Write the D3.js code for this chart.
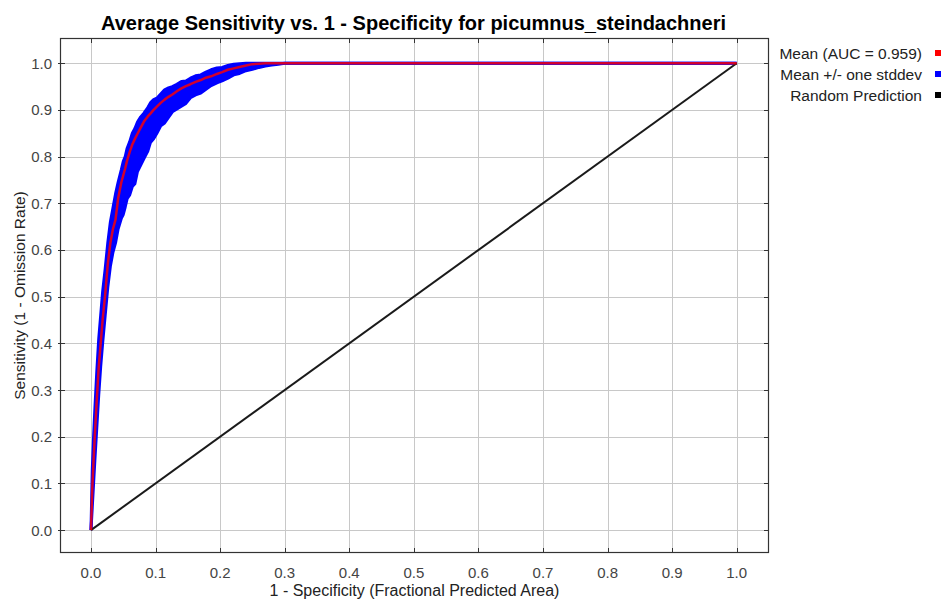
<!DOCTYPE html>
<html>
<head>
<meta charset="utf-8">
<script src="https://cdn.jsdelivr.net/npm/d3@7/dist/d3.min.js"></script>
<style>
  html, body { margin: 0; padding: 0; background: #fff; }
  svg { display: block; }
  text { font-family: "Liberation Sans", Arial, sans-serif; }
</style>
</head>
<body>
<svg id="chart" width="944" height="600"></svg>
<script>
// ---- data ----
const titleText = "Average Sensitivity vs. 1 - Specificity for picumnus_steindachneri";
const xTitle = "1 - Specificity (Fractional Predicted Area)";
const yTitle = "Sensitivity (1 - Omission Rate)";
const xTicks = [0, 0.1, 0.2, 0.3, 0.4, 0.5, 0.6, 0.7, 0.8, 0.9, 1.0];
const yTicks = [0, 0.1, 0.2, 0.3, 0.4, 0.5, 0.6, 0.7, 0.8, 0.9, 1.0];
const legendLabels = ["Mean (AUC = 0.959)", "Mean +/- one stddev", "Random Prediction"];
const legendColors = ["#ff0000", "#0000ff", "#000000"];

const fpr      = [0, 0.002, 0.004, 0.006, 0.009, 0.012, 0.015, 0.018, 0.022, 0.026, 0.030, 0.034, 0.038, 0.042, 0.047, 0.050, 0.053, 0.056, 0.060, 0.064, 0.068, 0.072, 0.077, 0.082, 0.088, 0.092, 0.097, 0.102, 0.108, 0.114, 0.120, 0.126, 0.133, 0.140, 0.147, 0.154, 0.162, 0.170, 0.178, 0.186, 0.195, 0.203, 0.212, 0.221, 0.230, 0.240, 0.250, 0.260, 0.270, 0.280, 0.290, 0.300, 0.350, 1.0];
const meanTpr  = [0, 0.09, 0.15, 0.205, 0.28, 0.35, 0.40, 0.45, 0.505, 0.57, 0.615, 0.645, 0.665, 0.71, 0.745, 0.76, 0.775, 0.792, 0.81, 0.826, 0.838, 0.849, 0.862, 0.875, 0.886, 0.892, 0.90, 0.907, 0.915, 0.922, 0.928, 0.933, 0.94, 0.946, 0.951, 0.955, 0.96, 0.964, 0.969, 0.972, 0.977, 0.981, 0.986, 0.989, 0.992, 0.995, 0.998, 0.999, 1, 1, 1, 1, 1, 1];
const upperTpr = [0, 0.13, 0.20, 0.26, 0.34, 0.41, 0.46, 0.51, 0.56, 0.615, 0.66, 0.69, 0.72, 0.745, 0.772, 0.79, 0.80, 0.818, 0.832, 0.850, 0.860, 0.874, 0.885, 0.893, 0.905, 0.915, 0.922, 0.925, 0.934, 0.943, 0.947, 0.950, 0.955, 0.961, 0.962, 0.968, 0.973, 0.975, 0.981, 0.986, 0.99, 0.991, 0.995, 0.998, 0.999, 1, 1, 1, 1, 1, 1, 1, 1, 1];
const lowerTpr = [0, 0.05, 0.10, 0.15, 0.22, 0.29, 0.35, 0.40, 0.46, 0.52, 0.565, 0.595, 0.615, 0.645, 0.668, 0.676, 0.692, 0.71, 0.718, 0.736, 0.742, 0.768, 0.782, 0.796, 0.812, 0.83, 0.838, 0.85, 0.866, 0.872, 0.884, 0.896, 0.902, 0.908, 0.914, 0.926, 0.932, 0.936, 0.944, 0.952, 0.958, 0.962, 0.968, 0.975, 0.978, 0.984, 0.987, 0.991, 0.994, 0.996, 0.998, 1, 1, 1];
const randomX = [0, 1];
const randomY = [0, 1];

// ---- layout ----
const svg = d3.select("#chart");
const plot = { left: 60, right: 769, top: 38, bottom: 553 };

const x = d3.scaleLinear().domain([-0.048, 1.05]).range([plot.left, plot.right]);
const y = d3.scaleLinear().domain([-0.049, 1.054]).range([plot.bottom, plot.top]);

svg.append("defs").append("clipPath").attr("id", "clip")
  .append("rect").attr("x", plot.left).attr("y", plot.top)
  .attr("width", plot.right - plot.left).attr("height", plot.bottom - plot.top);

// grid
const grid = svg.append("g");
grid.selectAll(".gx").data(xTicks).enter().append("line")
  .attr("x1", d => Math.round(x(d)) + 0.5).attr("x2", d => Math.round(x(d)) + 0.5)
  .attr("y1", plot.top).attr("y2", plot.bottom)
  .attr("stroke", "#c8c8c8").attr("stroke-width", 1);
grid.selectAll(".gy").data(yTicks).enter().append("line")
  .attr("y1", d => Math.round(y(d)) + 0.5).attr("y2", d => Math.round(y(d)) + 0.5)
  .attr("x1", plot.left).attr("x2", plot.right)
  .attr("stroke", "#c8c8c8").attr("stroke-width", 1);

// data
const pts = fpr.map((f, i) => ({ x: f, m: meanTpr[i], lo: lowerTpr[i], hi: upperTpr[i] }));
const g = svg.append("g").attr("clip-path", "url(#clip)");

g.append("path").datum(pts)
  .attr("d", d3.area().x(d => x(d.x)).y0(d => y(d.lo)).y1(d => y(d.hi)))
  .attr("fill", "#0000ff");
["lo", "hi"].forEach(k => {
  g.append("path").datum(pts)
    .attr("d", d3.line().x(d => x(d.x)).y(d => y(d[k])))
    .attr("fill", "none").attr("stroke", "#0000ff").attr("stroke-width", 3)
    .attr("stroke-linejoin", "round");
});

// random prediction
g.append("path").datum(randomX.map((v, i) => [v, randomY[i]]))
  .attr("d", d3.line().x(d => x(d[0])).y(d => y(d[1])))
  .attr("fill", "none").attr("stroke", "#1a1a1a").attr("stroke-width", 2);

// mean
g.append("path").datum(pts)
  .attr("d", d3.line().x(d => x(d.x)).y(d => y(d.m)))
  .attr("fill", "none").attr("stroke", "#ff0000").attr("stroke-opacity", 0.82)
  .attr("stroke-width", 2.5).attr("stroke-linejoin", "round");

// frame
svg.append("rect").attr("x", plot.left + 0.5).attr("y", plot.top + 0.5)
  .attr("width", plot.right - plot.left - 1).attr("height", plot.bottom - plot.top - 1)
  .attr("fill", "none").attr("stroke", "#333").attr("stroke-width", 1.2);

// ticks (inward, on all four sides)
const ticks = svg.append("g").attr("stroke", "#333").attr("stroke-width", 1);
xTicks.forEach(t => {
  const px = Math.round(x(t)) + 0.5;
  ticks.append("line").attr("x1", px).attr("x2", px).attr("y1", plot.bottom).attr("y2", plot.bottom - 5);
  ticks.append("line").attr("x1", px).attr("x2", px).attr("y1", plot.top).attr("y2", plot.top + 5);
});
yTicks.forEach(t => {
  const py = Math.round(y(t)) + 0.5;
  ticks.append("line").attr("y1", py).attr("y2", py).attr("x1", plot.left - 2).attr("x2", plot.left + 5);
  ticks.append("line").attr("y1", py).attr("y2", py).attr("x1", plot.right).attr("x2", plot.right - 5);
});

// tick labels
const fmt = d3.format(".1f");
svg.append("g").selectAll("text").data(xTicks).enter().append("text")
  .attr("x", d => x(d)).attr("y", 578).attr("text-anchor", "middle")
  .attr("font-size", 15).attr("fill", "#444").text(fmt);
svg.append("g").selectAll("text").data(yTicks).enter().append("text")
  .attr("x", 52).attr("y", d => y(d) + 5.5).attr("text-anchor", "end")
  .attr("font-size", 15).attr("fill", "#444").text(fmt);

// axis titles
svg.append("text").attr("x", (plot.left + plot.right) / 2).attr("y", 596)
  .attr("text-anchor", "middle").attr("font-size", 16).attr("fill", "#222").text(xTitle);
svg.append("text").attr("transform", `translate(25, ${(plot.top + plot.bottom) / 2}) rotate(-90)`)
  .attr("text-anchor", "middle").attr("font-size", 15.5).attr("fill", "#222").text(yTitle);

// title
svg.append("text").attr("x", (plot.left + plot.right) / 2 - 1).attr("y", 30)
  .attr("text-anchor", "middle").attr("font-size", 20).attr("font-weight", "bold")
  .attr("fill", "#000").text(titleText);

// legend
const leg = svg.append("g");
legendLabels.forEach((lab, i) => {
  const cy = 53 + i * 21;
  leg.append("text").attr("x", 922).attr("y", cy + 5.5).attr("text-anchor", "end")
    .attr("font-size", 15.5).attr("fill", "#222").text(lab);
  leg.append("rect").attr("x", 935).attr("y", cy - 3).attr("width", 6).attr("height", 6)
    .attr("fill", legendColors[i]);
});
</script>
</body>
</html>
